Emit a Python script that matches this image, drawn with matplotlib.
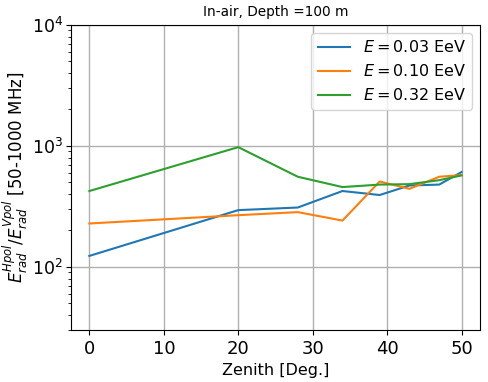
import numpy as np
import matplotlib.pyplot as plt

zenith = [0, 20, 28, 34, 39, 43, 47, 50]
ratio_003 = [123, 294, 309, 423, 392, 470, 478, 607]
ratio_010 = [228, 267, 283, 241, 507, 441, 555, 573]
ratio_032 = [423, 975, 555, 456, 478, 482, 520, 569]
labels = ['$E=0.03$ EeV', '$E=0.10$ EeV', '$E=0.32$ EeV']

fig, ax = plt.subplots(figsize=(4.88, 3.82), dpi=100)
fig.subplots_adjust(left=0.145, right=0.984, top=0.935, bottom=0.136)

for vals, lab in zip([ratio_003, ratio_010, ratio_032], labels):
    ax.plot(zenith, vals, label=lab, lw=1.5)

ax.set_yscale('log')
ax.set_ylim(30, 1e4)
ax.grid(True, which='major', lw=1, color='#b0b0b0')
ax.tick_params(labelsize=13)
ax.tick_params(axis='y', labelsize=12.5, pad=2)
ax.set_xlabel('Zenith [Deg.]', fontsize=11.5)
ax.set_ylabel('$E_{rad}^{Hpol}/E_{rad}^{Vpol}$ [50-1000 MHz]', fontsize=12)
ax.yaxis.set_label_coords(-0.1, 0.5)
ax.set_title('In-air, Depth =100 m', fontsize=9.8)
ax.legend(fontsize=11.5, loc='upper right')

fig.savefig('out.png')
